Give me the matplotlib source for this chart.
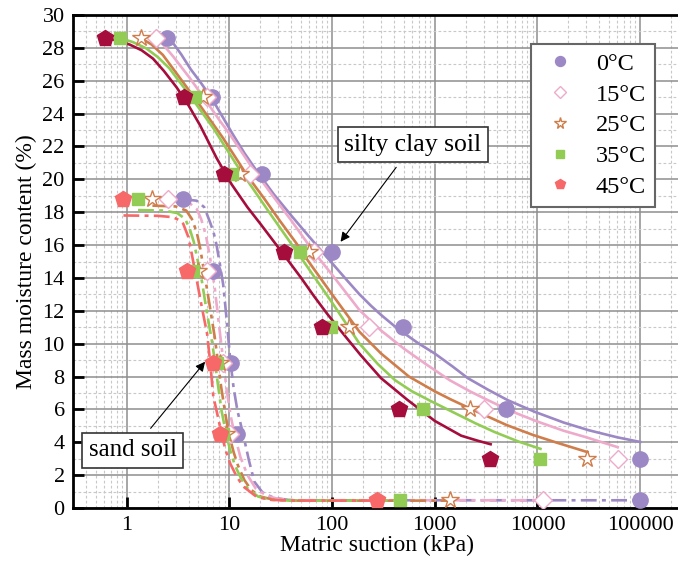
import matplotlib
matplotlib.use("Agg")
import matplotlib.pyplot as plt
from matplotlib.ticker import FixedLocator, NullFormatter
from matplotlib.lines import Line2D

plt.rcParams['font.family'] = ['Liberation Serif', 'DejaVu Serif']

temps = ['0°C', '15°C', '25°C', '35°C', '45°C']

# measured points, silty clay soil
clay_x = [
    [2.45, 6.7, 20.7, 100, 490, 4900, 100000],
    [1.95, 6.0, 16.0, 66, 229, 2990, 60500],
    [1.37, 5.57, 12.7, 59, 146, 2190, 30700],
    [0.855, 4.6, 10.5, 49, 98, 760, 10700],
    [0.61, 3.6, 8.9, 34, 80, 450, 3420],
]
clay_y = [
    [28.6, 25.0, 20.3, 15.6, 11.0, 6.0, 3.0],
    [28.6, 25.0, 20.3, 15.6, 11.0, 6.0, 3.0],
    [28.6, 25.0, 20.3, 15.6, 11.0, 6.0, 3.0],
    [28.6, 25.0, 20.3, 15.6, 11.0, 6.0, 3.0],
    [28.6, 25.0, 20.3, 15.6, 11.0, 6.0, 3.0],
]

# measured points, sand soil
sand_x = [
    [3.5, 6.97, 10.3, 11.8, 100000],
    [2.53, 6.0, 8.7, 10.2, 11400],
    [1.78, 4.98, 8.1, 9.2, 1410],
    [1.29, 4.45, 7.6, 8.6, 461],
    [0.93, 3.88, 6.97, 8.1, 276],
]
sand_y = [
    [18.8, 14.4, 8.8, 4.5, 0.47],
    [18.8, 14.4, 8.8, 4.5, 0.47],
    [18.8, 14.4, 8.8, 4.5, 0.47],
    [18.8, 14.4, 8.8, 4.5, 0.47],
    [18.8, 14.4, 8.8, 4.5, 0.47],
]

# fitted curves, silty clay soil
clay_fit_x = [
    [2.45, 2.9, 3.4, 4.2, 5.17, 6.7, 8.5, 10.9, 14, 18.5, 27, 40, 60, 100, 140, 185,
     240, 300, 400, 486, 700, 1000, 1500, 2100, 3300, 5140, 9440, 18000, 31700, 60000, 100000],
    [1.95, 2.3, 2.84, 4.13, 6.0, 8.0, 10.2, 16, 25, 40, 66, 100, 185, 300, 500, 800,
     1395, 2200, 3300, 5500, 10000, 18000, 30000, 60500],
    [1.37, 1.75, 2.25, 3.55, 5.17, 8.7, 14.8, 22, 30, 45, 59, 100, 185, 300, 560, 1000,
     1440, 2500, 5000, 9000, 15000, 30700],
    [0.855, 1.15, 1.55, 2.0, 2.6, 4.13, 7.0, 11.8, 18, 25, 35, 49, 70, 100, 185, 280, 410,
     600, 920, 1600, 2500, 3800, 6500, 10700],
    [0.61, 0.8, 1.07, 1.4, 1.8, 2.3, 3.06, 4.0, 5.17, 7.5, 10.5, 15, 20, 34, 50, 66.5, 90,
     121, 190, 300, 537, 1000, 1810, 2600, 3500],
]
clay_fit_y = [
    [28.6, 28.2, 27.6, 26.7, 25.95, 24.95, 23.85, 22.7, 21.6, 20.5, 19.1, 17.8, 16.5, 14.9, 13.85, 13.0,
     12.3, 11.75, 11.1, 10.7, 10.0, 9.4, 8.6, 7.9, 7.2, 6.56, 5.85, 5.2, 4.73, 4.3, 4.02],
    [28.6, 28.15, 27.47, 26.15, 24.73, 23.6, 22.7, 20.87, 19.2, 17.5, 15.6, 14.2, 12.04, 10.8, 9.7, 8.8,
     7.78, 7.1, 6.56, 5.9, 5.26, 4.7, 4.3, 3.7],
    [28.6, 28.2, 27.57, 25.9, 24.5, 22.5, 20.26, 18.8, 17.6, 16.1, 15.0, 13.0, 10.72, 9.4, 8.0, 7.1,
     6.6, 5.9, 5.05, 4.45, 4.0, 3.4],
    [28.6, 28.35, 27.97, 27.45, 26.76, 25.1, 23.1, 20.87, 19.2, 17.9, 16.6, 15.3, 13.9, 12.5, 10.0, 8.75, 7.78,
     7.1, 6.5, 5.75, 5.15, 4.63, 4.05, 3.6],
    [28.6, 28.45, 28.2, 27.85, 27.35, 26.6, 25.6, 24.5, 23.3, 21.3, 19.7, 18.3, 17.3, 15.4, 14.0, 12.9, 11.8,
     10.8, 9.3, 7.9, 6.6, 5.3, 4.4, 4.1, 3.88],
]

# fitted curves, sand soil
sand_fit_x = [
    [3.5, 4.8, 5.7, 6.47, 7.0, 7.5, 8.1, 8.7, 9.4, 10.2, 11.0, 12.0, 13.6, 15.5, 17.5,
     21, 27, 40, 100000],
    [2.53, 4.0, 4.8, 5.3, 5.9, 6.5, 7.2, 7.9, 8.7, 9.4, 10.3, 11.3, 12.8, 15, 18,
     23, 30, 45, 11400],
    [1.78, 3.0, 3.8, 4.3, 4.8, 5.2, 5.7, 6.4, 7.2, 7.7, 8.3, 9.2, 10.0, 11.0, 12.1,
     14, 16.3, 20, 27, 40, 1410],
    [1.29, 2.3, 3.1, 3.7, 4.1, 4.5, 4.9, 5.4, 6.0, 6.7, 7.2, 7.7, 8.4, 9.3, 10.2,
     11.3, 13, 15, 19, 25, 40, 461],
    [0.93, 2.0, 2.8, 3.3, 3.55, 3.98, 4.29, 4.8, 5.4, 6.07, 6.47, 6.97, 7.7, 8.4, 9.2,
     10.2, 11.8, 13.7, 18.5, 25, 40, 276],
]
sand_fit_y = [
    [18.8, 18.7, 18.3, 17.4, 16.8, 16.0, 14.8, 13.6, 11.5, 9.0, 7.3, 5.9, 4.5, 2.9, 1.6,
     0.95, 0.62, 0.47, 0.47],
    [18.7, 18.6, 18.2, 17.6, 16.6, 15.2, 13.4, 11.2, 9.0, 7.2, 5.6, 4.4, 3.1, 2.0, 1.2,
     0.75, 0.55, 0.47, 0.47],
    [18.4, 18.35, 18.1, 17.6, 16.8, 15.8, 14.3, 12.4, 10.4, 9.0, 7.4, 5.6, 4.4, 3.4, 2.6,
     1.7, 1.1, 0.7, 0.5, 0.45, 0.45],
    [18.13, 18.1, 17.95, 17.6, 17.0, 16.2, 15.1, 13.8, 12.0, 10.3, 9.0, 7.6, 5.9, 4.5, 3.5,
     2.6, 1.8, 1.2, 0.7, 0.5, 0.45, 0.45],
    [17.8, 17.78, 17.7, 17.5, 17.3, 16.5, 15.5, 13.9, 12.2, 10.6, 9.0, 6.8, 5.6, 4.5, 3.5,
     2.7, 1.9, 1.3, 0.67, 0.5, 0.45, 0.45],
]

line_colors = ['#9c88c4', '#eeaacb', '#cf7d4a', '#92cc55', '#a50d3c']
sand_colors = ['#9c88c4', '#eeaacb', '#cf7d4a', '#92cc55', '#f76868']
markers = ['o', 'D', '*', 's', 'p']
msizes = [11, 9, 13, 9, 12]
hollow = [False, True, True, False, False]

fig = plt.figure(figsize=(6.78, 5.72), dpi=100)
ax = fig.add_axes([73 / 678, 1 - 508 / 572, 608 / 678, 493 / 572])
ax.set_xscale('log')
ax.set_xlim(0.3, 2.5e5)
ax.set_ylim(0, 30)

# grid
ax.set_axisbelow(True)
ax.xaxis.set_major_locator(FixedLocator([1, 10, 100, 1000, 10000, 100000]))
ax.xaxis.set_minor_locator(FixedLocator(
    [m * 10 ** e for e in range(-1, 6) for m in range(2, 10)]))
ax.xaxis.set_minor_formatter(NullFormatter())
ax.set_xticklabels(['1', '10', '100', '1000', '10000', '100000'])
ax.yaxis.set_major_locator(FixedLocator(range(0, 31, 2)))
ax.yaxis.set_minor_locator(FixedLocator(range(1, 30, 2)))
ax.grid(which='major', color='#8e8e8e', linewidth=1.1, linestyle='-')
ax.grid(which='minor', color='#c8c8c8', linewidth=0.8, linestyle=(0, (2.5, 2)))

ax.tick_params(which='major', direction='in', length=8, width=2, labelsize=16,
               top=False, right=False, pad=6)
ax.tick_params(which='minor', length=0)
for s in ax.spines.values():
    s.set_linewidth(2)
    s.set_color('black')

# sand curves and points
for i in range(5):
    ax.plot(sand_fit_x[i], sand_fit_y[i], color=sand_colors[i], lw=1.9,
            linestyle=(0, (6, 2, 1.5, 2)), zorder=3)
for i in range(5):
    c = sand_colors[i]
    ax.plot(sand_x[i], sand_y[i], linestyle='none', marker=markers[i],
            ms=msizes[i], mec=c, mfc='white' if hollow[i] else c,
            mew=1.0, zorder=4)

# silty clay curves and points
for i in range(5):
    ax.plot(clay_fit_x[i], clay_fit_y[i], color=line_colors[i], lw=1.9, zorder=3)
for i in range(5):
    c = line_colors[i]
    ax.plot(clay_x[i], clay_y[i], linestyle='none', marker=markers[i],
            ms=msizes[i], mec=c, mfc='white' if hollow[i] else c,
            mew=1.0, zorder=4)

ax.set_xlabel('Matric suction (kPa)', fontsize=17, labelpad=0)
ax.set_ylabel('Mass moisture content (%)', fontsize=17, labelpad=4)

# legend
handles = []
for i in range(5):
    c = sand_colors[i]
    handles.append(Line2D([], [], linestyle='none', marker=markers[i],
                          ms=msizes[i] * 0.65, mec=c,
                          mfc='white' if hollow[i] else c, mew=1.0))
leg = ax.legend(handles, temps, loc='upper right', bbox_to_anchor=(0.958, 0.942),
                fontsize=17.5, frameon=True, fancybox=False, framealpha=1,
                edgecolor='#666666', borderpad=0.38, labelspacing=0.36,
                handletextpad=0.7, handlelength=1.6, borderaxespad=0)
leg.get_frame().set_linewidth(1.5)

box = dict(boxstyle='square,pad=0.25', fc='white', ec='#333333', lw=1.2)
ax.annotate('silty clay soil', xy=(121, 16.2), xytext=(614, 22.1),
            fontsize=18.5, ha='center', va='center', bbox=box,
            arrowprops=dict(arrowstyle='-|>', color='black', lw=0.8,
                            shrinkA=4, shrinkB=0, mutation_scale=14))
ax.annotate('sand soil', xy=(5.8, 8.9), xytext=(1.14, 3.5),
            fontsize=18, ha='center', va='center', bbox=box,
            arrowprops=dict(arrowstyle='-|>', color='black', lw=0.8,
                            shrinkA=4, shrinkB=0, mutation_scale=14))

fig.savefig('out.png', dpi=100)
